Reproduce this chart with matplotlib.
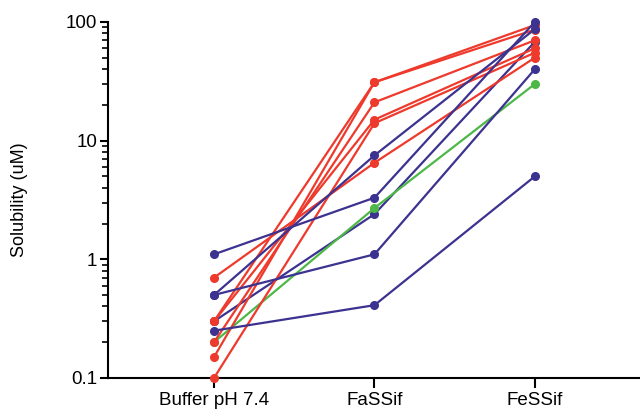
import matplotlib
matplotlib.use("Agg")
import matplotlib.pyplot as plt
import numpy as np
from matplotlib.ticker import LogLocator, FixedLocator, NullFormatter

plt.rcParams["font.family"] = ["Liberation Sans", "DejaVu Sans"]

media = ["Buffer pH 7.4", "FaSSif", "FeSSif"]

# solubility (uM) per compound: buffer, FaSSif, FeSSif
red_series = [
    [0.3, 31, 94],
    [0.15, 31, 86],
    [0.2, 21, 70],
    [0.3, 15, 60],
    [0.1, 14, 55],
    [0.7, 6.5, 50],
]
blue_series = [
    [1.1, 3.3, 100],
    [0.5, 7.5, 87],
    [0.3, 2.4, 68],
    [0.5, 1.1, 40],
    [0.25, 0.41, 5],
]
green_series = [
    [0.2, 2.7, 30],
]

red = "#EE3A2C"
blue = "#3C3290"
green = "#4DB848"

fig = plt.figure(figsize=(6.4, 4.13), dpi=100)
ax = fig.add_axes([0.169, 0.085, 0.831, 0.862])

x = np.arange(len(media))
style = dict(marker="o", ms=5.5, lw=1.6, clip_on=False)

# the 0.3 blue compound and the green one sit under the red dots
ax.plot(x, blue_series[2], color=blue, zorder=2, **style)
for s in green_series:
    ax.plot(x, s, color=green, zorder=2.5, **style)
for s in red_series:
    ax.plot(x, s, color=red, zorder=3, **style)
for i, s in enumerate(blue_series):
    if i == 2:
        continue
    ax.plot(x, s, color=blue, zorder=5, **style)

ax.set_yscale("log")
ax.set_ylim(0.1, 100)
ax.set_xlim(-0.66, 2.655)
ax.yaxis.set_major_locator(FixedLocator([0.1, 1, 10, 100]))
ax.set_yticklabels(["0.1", "1", "10", "100"])
ax.yaxis.set_minor_locator(LogLocator(base=10, subs=np.arange(2, 10)))
ax.yaxis.set_minor_formatter(NullFormatter())
ax.set_xticks(x)
ax.set_xticklabels(media)

for side in ["top", "right"]:
    ax.spines[side].set_visible(False)
for side in ["left", "bottom"]:
    ax.spines[side].set_linewidth(1.5)

ax.tick_params(axis="y", which="major", length=6, width=1.5, labelsize=13.5, pad=2)
ax.tick_params(axis="y", which="minor", length=4, width=1.2)
ax.tick_params(axis="x", which="major", length=7.5, width=1.5, labelsize=13.5, pad=3)

ax.set_ylabel("Solubility (uM)", fontsize=13)
ax.yaxis.set_label_coords(-0.15, 0.5)

fig.savefig("out.png", dpi=100)
